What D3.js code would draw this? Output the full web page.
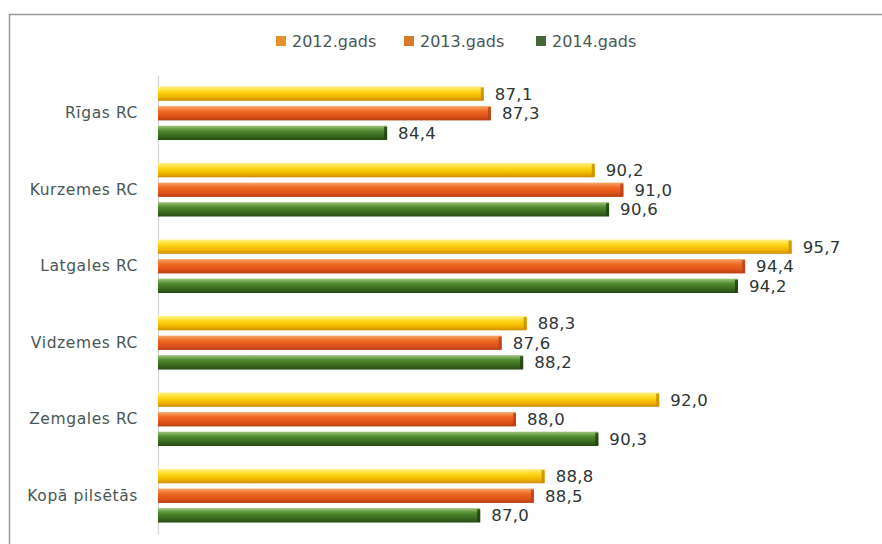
<!DOCTYPE html>
<html>
<head>
<meta charset="utf-8">
<script src="https://cdn.jsdelivr.net/npm/d3@7"></script>
<style>
  html, body { margin: 0; padding: 0; background: #fff; }
  svg { display: block; }
  text { font-family: "DejaVu Sans", sans-serif; }
</style>
</head>
<body>
<svg id="chart" width="882" height="544"></svg>
<script>
const categories = ["Rīgas RC", "Kurzemes RC", "Latgales RC", "Vidzemes RC", "Zemgales RC", "Kopā pilsētās"];
const seriesNames = ["2012.gads", "2013.gads", "2014.gads"];
const values2012 = [87.1, 90.2, 95.7, 88.3, 92.0, 88.8];
const values2013 = [87.3, 91.0, 94.4, 87.6, 88.0, 88.5];
const values2014 = [84.4, 90.6, 94.2, 88.2, 90.3, 87.0];
const axisDomain = [78, 98];

const seriesValues = [values2012, values2013, values2014];
const svg = d3.select("#chart");
const W = 882, H = 544;

// gradients
const defs = svg.append("defs");
const gradSpecs = [
  { id: "g2012", stops: ["#fff38a", "#ffd81a", "#f2b800", "#d08c00"] },
  { id: "g2013", stops: ["#f9a86a", "#ee6a24", "#e0541a", "#b83e12"] },
  { id: "g2014", stops: ["#9cc47a", "#4f8a2e", "#3a6a20", "#274a14"] }
];
gradSpecs.forEach(g => {
  const lg = defs.append("linearGradient").attr("id", g.id)
    .attr("x1", 0).attr("y1", 0).attr("x2", 0).attr("y2", 1);
  [0, 0.35, 0.7, 1].forEach((o, i) => lg.append("stop").attr("offset", o).attr("stop-color", g.stops[i]));
});
const capColors = ["#c98a00", "#b8401a", "#1f3d10"];
const legendColors = ["#e8902a", "#d9792c", "#46663a"];

// frame
svg.append("path").attr("d", `M9.5,${H} V14.5 H${W}`)
  .attr("fill", "none").attr("stroke", "#9a9a9a").attr("stroke-width", 1.5);

// scales
const x = d3.scaleLinear().domain(axisDomain).range([158, 874]);
const y = d3.scaleBand().domain(categories).range([75, 534]).paddingInner(0.3).paddingOuter(0.15);
const ySub = d3.scaleBand().domain(seriesNames).range([0, y.bandwidth()]).paddingInner(0.27);

// y axis
const yAxis = d3.axisLeft(y).tickSize(0).tickPadding(20);
const gy = svg.append("g").attr("transform", `translate(${x(axisDomain[0])},0)`).call(yAxis);
gy.attr("font-family", null).attr("font-size", null);
gy.select(".domain").attr("stroke", "#d4d4d4").attr("stroke-width", 1.2);
gy.selectAll("text").style("font-size", "15.5px").style("letter-spacing", "0.6px").attr("fill", "#4a5757")
  .style("font-family", "'DejaVu Sans', sans-serif");

// bars
const groups = svg.append("g").selectAll("g").data(categories).join("g")
  .attr("transform", d => `translate(0,${y(d)})`);

seriesNames.forEach((s, si) => {
  groups.append("rect")
    .attr("x", x(axisDomain[0]))
    .attr("y", ySub(s))
    .attr("width", (d, ci) => x(seriesValues[si][ci]) - x(axisDomain[0]))
    .attr("height", ySub.bandwidth())
    .attr("fill", `url(#g${s.slice(0, 4)})`);
  groups.append("rect")
    .attr("x", (d, ci) => x(seriesValues[si][ci]) - 3)
    .attr("y", ySub(s) + 1)
    .attr("width", 3)
    .attr("height", ySub.bandwidth() - 2)
    .attr("fill", capColors[si]).attr("opacity", 0.8);
  groups.append("text")
    .attr("x", (d, ci) => x(seriesValues[si][ci]) + 11)
    .attr("y", ySub(s) + ySub.bandwidth() / 2)
    .attr("dy", "0.36em")
    .style("font-size", "16.5px")
    .style("letter-spacing", "0.3px")
    .attr("fill", "#2e3535")
    .text((d, ci) => d3.format(".1f")(seriesValues[si][ci]).replace(".", ","));
});

// legend
const legendX = [276, 404, 536];
const legend = svg.append("g");
seriesNames.forEach((s, si) => {
  legend.append("rect").attr("x", legendX[si]).attr("y", 36).attr("width", 10).attr("height", 10)
    .attr("fill", legendColors[si]);
  legend.append("text").attr("x", legendX[si] + 16).attr("y", 41).attr("dy", "0.36em")
    .style("font-size", "16px").attr("fill", "#4a5757").text(s);
});
</script>
</body>
</html>
